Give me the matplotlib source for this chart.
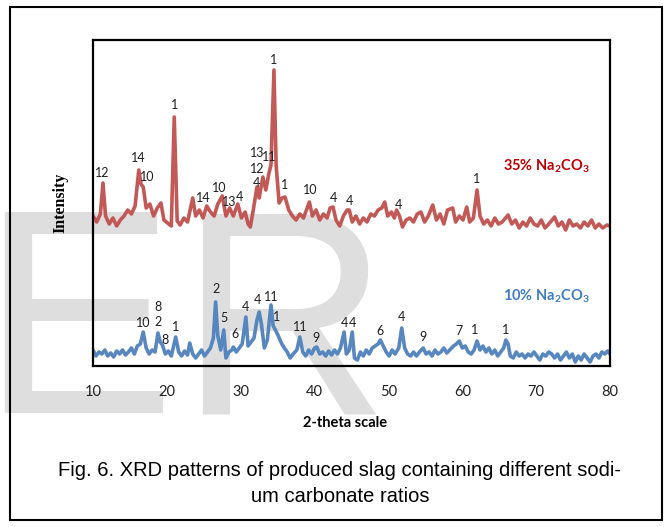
import matplotlib
matplotlib.use("Agg")
import matplotlib.pyplot as plt
from matplotlib.patches import Rectangle

# ---------------- data ----------------
red_theta = [10.0, 10.5, 11.0, 11.35, 11.7, 12.2, 12.7, 13.2, 13.7, 14.2, 14.7, 15.2, 15.7, 16.2, 16.5,
             16.8, 17.2, 17.7, 18.2, 18.7, 19.2, 19.6, 20.1, 20.6, 21.0, 21.4, 21.8, 22.3, 22.8, 23.5,
             23.9, 24.4, 24.9, 25.4, 25.9, 26.4, 26.9, 27.5, 28.0, 28.5, 29.0, 29.6, 30.1, 30.6, 31.0,
             31.3, 31.7, 32.2, 32.5, 33.0, 33.4, 33.8, 34.1, 34.5, 34.8, 35.2, 35.6, 36.0, 36.5, 37.0,
             37.5, 38.0, 38.5, 39.0, 39.3, 39.7, 40.2, 40.7, 41.2, 41.7, 42.1, 42.5, 42.9, 43.4, 43.9,
             44.4, 44.7, 45.1, 45.6, 46.1, 46.6, 47.1, 47.6, 48.1, 48.6, 49.1, 49.5, 49.9, 50.4, 50.8,
             51.1, 51.5, 51.9, 52.4, 52.9, 53.4, 53.9, 54.4, 54.9, 55.4, 56.0, 56.5, 57.0, 57.5, 58.0,
             58.7, 59.1, 59.6, 60.1, 60.6, 61.0, 61.5, 62.0, 62.4, 62.9, 63.4, 63.9, 64.4, 64.9, 65.4,
             66.2, 66.7, 67.2, 67.7, 68.2, 68.7, 69.2, 69.7, 70.2, 70.7, 71.2, 71.7, 72.5, 73.0, 73.5,
             74.0, 74.5, 75.0, 75.5, 76.0, 76.5, 77.0, 77.5, 78.0, 78.5, 79.0, 79.6, 80.0]
red_int = [150, 144, 152, 183, 150, 142, 148, 140, 146, 150, 156, 152, 160, 196, 182,
           179, 158, 162, 150, 158, 163, 146, 143, 140, 249, 145, 141, 148, 144, 168,
           150, 156, 148, 160, 154, 150, 162, 170, 150, 158, 150, 162, 148, 154, 142,
           139, 156, 179, 168, 189, 176, 192, 201, 296, 200, 163, 168, 169, 156, 150,
           146, 152, 148, 158, 164, 150, 156, 146, 152, 148, 158, 159, 146, 140, 150,
           156, 156, 144, 150, 142, 148, 144, 152, 150, 156, 158, 164, 150, 154, 148,
           156, 150, 139, 146, 148, 144, 152, 154, 144, 150, 161, 146, 152, 142, 156,
           158, 144, 150, 146, 159, 144, 148, 176, 150, 142, 146, 140, 148, 142, 144,
           151, 142, 146, 138, 144, 140, 148, 142, 140, 146, 138, 142, 149, 140, 144,
           136, 146, 140, 142, 138, 144, 140, 146, 138, 142, 138, 141, 140]

blue_theta = [10.0, 10.4, 10.8, 11.2, 11.6, 12.0, 12.4, 12.8, 13.2, 13.6, 14.0, 14.4, 14.8, 15.2, 15.6,
              16.0, 16.4, 16.8, 17.2, 17.6, 18.0, 18.4, 18.8, 19.1, 19.4, 19.8, 20.2, 20.6, 21.2, 21.6,
              22.0, 22.4, 22.8, 23.1, 23.5, 23.9, 24.3, 24.7, 25.1, 25.5, 25.9, 26.3, 26.6, 26.9, 27.3,
              27.7, 28.0, 28.4, 28.8, 29.0, 29.4, 29.8, 30.2, 30.7, 31.0, 31.4, 31.8, 32.2, 32.5, 32.8,
              33.2, 33.6, 34.1, 34.4, 34.7, 35.1, 35.5, 35.9, 36.3, 36.7, 37.1, 37.6, 38.0, 38.4, 38.8,
              39.2, 39.6, 40.0, 40.3, 40.7, 41.1, 41.5, 41.9, 42.3, 42.7, 43.1, 43.5, 44.0, 44.3, 44.7,
              45.1, 45.4, 45.8, 46.2, 46.6, 47.0, 47.4, 47.8, 48.2, 48.6, 48.9, 49.3, 49.7, 50.1, 50.5,
              50.9, 51.4, 51.8, 52.2, 52.6, 53.0, 53.4, 53.8, 54.2, 54.7, 55.1, 55.5, 55.9, 56.3, 56.7,
              57.1, 57.5, 57.9, 58.3, 58.8, 59.2, 59.6, 60.0, 60.4, 60.8, 61.2, 61.6, 62.0, 62.4, 62.8,
              63.2, 63.6, 64.0, 64.4, 64.8, 65.2, 65.6, 65.9, 66.2, 66.5, 66.9, 67.3, 67.7, 68.1, 68.5,
              68.9, 69.3, 69.7, 70.1, 70.5, 70.9, 71.3, 71.7, 72.1, 72.5, 72.9, 73.3, 73.7, 74.1, 74.5,
              74.9, 75.3, 75.7, 76.1, 76.5, 76.9, 77.3, 77.7, 78.1, 78.5, 78.9, 79.3, 79.7, 80.0]
blue_int = [16, 10, 14, 12, 16, 10, 13, 9, 15, 12, 16, 11, 14, 18, 12,
            20, 22, 34, 18, 12, 16, 14, 33, 24, 21, 12, 15, 10, 29, 14,
            10, 15, 11, 23, 12, 8, 12, 16, 10, 14, 18, 28, 64, 30, 16,
            36, 8, 14, 16, 19, 14, 18, 22, 49, 20, 24, 28, 46, 54, 42,
            18, 26, 61, 40, 36, 30, 23, 18, 14, 8, 12, 16, 29, 14, 10,
            16, 12, 18, 19, 12, 14, 10, 15, 11, 16, 12, 18, 34, 12, 16,
            34, 8, 6, 14, 10, 16, 12, 18, 20, 22, 26, 20, 14, 10, 16,
            12, 18, 38, 18, 12, 10, 14, 10, 14, 18, 12, 14, 10, 16, 12,
            14, 18, 13, 16, 20, 22, 25, 18, 20, 14, 12, 16, 25, 16, 20,
            14, 18, 12, 16, 10, 14, 18, 26, 22, 10, 8, 14, 10, 12, 8,
            12, 10, 14, 10, 6, 12, 10, 14, 12, 8, 12, 6, 10, 14, 8,
            12, 4, 10, 6, 12, 8, 4, 10, 12, 8, 14, 12, 15, 12]

red_labels = ["12", "14", "10", "1", "14", "10", "13", "4", "13", "12", "4", "11", "1", "1", "10", "4", "4", "4", "1"]
red_label_theta = [11.2, 16.1, 17.4, 21.0, 24.9, 27.1, 28.4, 29.9, 32.3, 32.3, 32.2, 33.9, 34.5, 36.0, 39.4, 42.6, 44.7, 51.4, 61.9]
red_label_int = [193, 208, 189, 261, 168, 178, 164, 169, 213, 197, 183, 209, 306, 181, 176, 168, 165, 161, 187]

blue_labels = ["10", "8", "2", "8", "1", "2", "5", "6", "4", "4", "11", "1", "11", "9", "4", "4", "6", "4", "9", "7", "1", "1"]
blue_label_theta = [16.8, 18.8, 18.8, 19.7, 21.2, 26.7, 27.7, 29.2, 30.7, 32.3, 34.1, 34.8, 38.0, 40.2, 44.1, 45.1, 48.9, 51.8, 54.7, 59.6, 61.7, 65.8]
blue_label_int = [43, 59, 44, 26, 39, 77, 48, 32, 59, 66, 69, 49, 39, 28, 43, 43, 35, 49, 29, 35, 36, 36]

x_ticks = [10, 20, 30, 40, 50, 60, 70, 80]

# ---------------- figure ----------------
W, H = 665, 527
fig = plt.figure(figsize=(W / 100, H / 100), dpi=100)
fig.patch.set_facecolor("white")

# watermark (drawn behind everything)
wm_kw = dict(fontsize=210, family="Liberation Sans", color="#dedede", va="baseline", ha="left", zorder=-10)
fig.text(-20 / W, (H - 413) / H, "E", **wm_kw)
fig.text(178 / W, (H - 413) / H, "R", **wm_kw)

# outer frame
fig.add_artist(Rectangle((10 / W, 7 / H), 652 / W, 513 / H, transform=fig.transFigure,
                         fill=False, edgecolor="black", linewidth=1.5, zorder=5))

ax = fig.add_axes([93 / W, (H - 366) / H, 517 / W, 326 / H])
ax.set_zorder(2)
ax.patch.set_alpha(0)
ax.plot(red_theta, red_int, color="#c0504d", lw=2.6, solid_joinstyle="round", alpha=0.95)
ax.plot(blue_theta, blue_int, color="#4f81bd", lw=2.6, solid_joinstyle="round", alpha=0.95)
ax.set_xlim(10, 80)
ax.set_ylim(0, 326)
ax.set_xticks(x_ticks)
ax.set_xticklabels([str(t) for t in x_ticks], family="Lato", fontsize=10.5, color="#222222")
ax.tick_params(axis="x", length=0, pad=14)
ax.set_yticks([])
for s in ax.spines.values():
    s.set_linewidth(1.6)
    s.set_color("black")

lbl_kw = dict(family="Lato", fontsize=9, color="#1f1f1f", ha="center", va="center")
for t, x, y in zip(red_labels, red_label_theta, red_label_int):
    ax.text(x, y, t, **lbl_kw)
for t, x, y in zip(blue_labels, blue_label_theta, blue_label_int):
    ax.text(x, y, t, **lbl_kw)

ax.text(0.877, 0.612, r"35% Na$_\mathregular{2}$CO$_\mathregular{3}$", transform=ax.transAxes,
        family="Lato", fontsize=10.5, fontweight="bold", color="#c00000", ha="center", va="center")
ax.text(0.877, 0.215, r"10% Na$_\mathregular{2}$CO$_\mathregular{3}$", transform=ax.transAxes,
        family="Lato", fontsize=10.5, fontweight="bold", color="#3f7cc3", ha="center", va="center")

fig.text(60 / W, (H - 203) / H, "Intensity", rotation=90, family="Liberation Serif",
         fontweight="bold", fontsize=11.5, ha="center", va="center", zorder=3)
fig.text(345 / W, (H - 423) / H, "2-theta scale", family="Lato", fontweight="bold",
         fontsize=10.5, ha="center", va="center", zorder=3)

fig.text(340 / W, (H - 471) / H, "Fig. 6. XRD patterns of produced slag containing different sodi-",
         family="Liberation Sans", fontsize=14.5, ha="center", va="center")
fig.text(340 / W, (H - 496) / H, "um carbonate ratios",
         family="Liberation Sans", fontsize=14.5, ha="center", va="center")

fig.savefig("out.png", dpi=100)
